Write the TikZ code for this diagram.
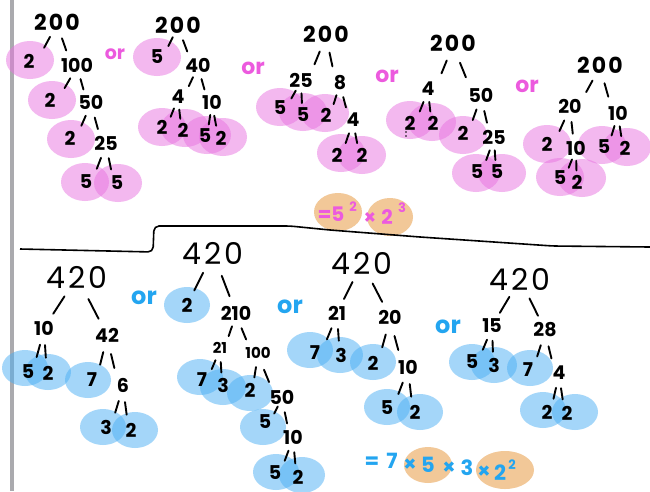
\documentclass[tikz,border=0pt]{standalone}
\usepackage{fontspec}
\setmainfont{Poppins}
\newfontfamily\widefont[LetterSpace=10]{Poppins}
\usetikzlibrary{calc}

\definecolor{pinkfill}{RGB}{233,115,225}
\definecolor{bluefill}{RGB}{75,175,245}
\definecolor{orangefill}{RGB}{242,200,152}
\definecolor{pinkink}{RGB}{236,90,222}
\definecolor{blueink}{RGB}{35,165,240}
\definecolor{bargray}{RGB}{170,170,174}

\tikzset{
  pinkblob/.style={fill=pinkfill, fill opacity=0.5},
  blueblob/.style={fill=bluefill, fill opacity=0.5},
  orangeblob/.style={fill=orangefill},
  twig/.style={line width=1.9pt, line cap=round},
  dg/.style={font=\bfseries\fontsize{19}{19}\selectfont, inner sep=1pt},
  sm/.style={font=\bfseries\fontsize{15}{15}\selectfont, inner sep=1pt},
  topnum/.style={font=\widefont\bfseries\fontsize{22}{22}\selectfont, inner sep=1pt},
  rootnum/.style={font=\widefont\fontsize{30}{30}\selectfont, inner sep=1pt},
  orp/.style={text=pinkink, font=\bfseries\fontsize{22}{22}\selectfont, inner sep=0pt},
  orb/.style={text=blueink, font=\bfseries\fontsize{24}{24}\selectfont, inner sep=0pt},
  eqp/.style={text=pinkink, font=\bfseries\fontsize{20}{20}\selectfont, inner sep=0pt},
  eqb/.style={text=blueink, font=\bfseries\fontsize{21}{21}\selectfont, inner sep=0pt},
  supp/.style={font=\bfseries\fontsize{13}{13}\selectfont, inner sep=0pt},
}

% short hand-drawn strokes between a parent and a child:
% they fall more steeply than the straight line joining the two centres
\newcommand{\twig}[2]{\draw[twig] let \p1=(#1), \p2=(#2) in
  ({\x1+0.25*(\x2-\x1)},{\y1+0.38*(\y2-\y1)}) --
  ({\x1+0.46*(\x2-\x1)},{\y1+0.66*(\y2-\y1)});}
\newcommand{\rtwig}[2]{\draw[twig] ($(#1)!0.38!(#2)$) -- ($(#1)!0.72!(#2)$);}
\newcommand{\pblob}[1]{\path[pinkblob] (#1) ellipse [x radius=24pt, y radius=19pt];}
\newcommand{\bblob}[1]{\path[blueblob] (#1) ellipse [x radius=23pt, y radius=18pt];}

\begin{document}
\begin{tikzpicture}[x=1pt, y=-1pt]
\useasboundingbox (0,0) rectangle (650,491);
\fill[white] (0,0) rectangle (650,491);
\fill[bargray] (10,0) rectangle (14,491);

% ---------- highlight blobs, top row ----------
\pblob{30,60} \pblob{52,100} \pblob{71,139} \pblob{85,182} \pblob{118,183}
\pblob{157,57} \pblob{162,127} \pblob{185,128} \pblob{207,135} \pblob{223,137}
\pblob{280,107} \pblob{303,112} \pblob{325,113} \pblob{341,153} \pblob{362,155}
\pblob{410,120} \pblob{432,122} \pblob{463,135} \pblob{476,173} \pblob{502,173}
\pblob{547,144} \pblob{560,177} \pblob{582,178} \pblob{602,145} \pblob{627,147}

% ---------- highlight blobs, bottom row ----------
\bblob{25,368} \bblob{48,372} \bblob{88,380} \bblob{103,427} \bblob{135,430}
\bblob{187,305} \bblob{200,377} \bblob{223,387} \bblob{250,393} \bblob{263,427}
\bblob{276,472} \bblob{302,475}
\bblob{310,350} \bblob{340,355} \bblob{373,362} \bblob{387,407} \bblob{420,412}
\bblob{472,362} \bblob{494,365} \bblob{530,368} \bblob{543,410} \bblob{575,412}

% ---------- results ----------
\path[orangeblob] (338,212) ellipse [x radius=24pt, y radius=19pt];
\path[orangeblob] (390,217) ellipse [x radius=23pt, y radius=19pt];
\path[orangeblob] (428,465) ellipse [x radius=24pt, y radius=18pt];
\path[orangeblob] (505,470) ellipse [x radius=29pt, y radius=19pt];

\node[eqp] (e1a) at (331,214) {=5};
\node[eqp,supp] (e1b) at (353,207) {2};
\node[eqp] (e1c) at (370,218) {×};
\node[eqp] (e1d) at (387,217) {2};
\node[eqp,supp] (e1e) at (402,208) {3};

\node[eqb] (e2a) at (372,463) {=};
\node[eqb] (e2b) at (392,461) {7};
\node[eqb] (e2c) at (410,465) {×};
\node[eqb] (e2d) at (428,465) {5};
\node[eqb] (e2e) at (449,468) {×};
\node[eqb] (e2f) at (467,468) {3};
\node[eqb] (e2g) at (484,472) {×};
\node[eqb] (e2h) at (500,473) {2};
\node[eqb,supp] (e2i) at (512,465) {2};

% ---------- dividing line ----------
\draw[line width=1.6pt, rounded corners=5pt]
  (20,249) -- (153,252) -- (154,226) -- (290,226) -- (330,230)
  -- (420,237) -- (553,246) -- (650,247);

% ---------- tree 1: 200 ----------
\node[topnum] (a1) at (57,22) {200};
\node[dg] (a2) at (29,61) {2};
\node[dg] (a3) at (77,65) {100};
\node[dg] (a4) at (50,100) {2};
\node[dg] (a5) at (91,102) {50};
\node[dg] (a6) at (70,138) {2};
\node[dg] (a7) at (106,143) {25};
\node[dg] (a8) at (86,182) {5};
\node[dg] (a9) at (117,183) {5};
\twig{a1}{a2} \twig{a1}{a3} \twig{a3}{a4} \twig{a3}{a5}
\twig{a5}{a6} \twig{a5}{a7} \twig{a7}{a8} \twig{a7}{a9}
\node[orp,font=\bfseries\fontsize{19}{19}\selectfont] (or1) at (115,54) {or};

% ---------- tree 2: 200 ----------
\node[topnum] (b1) at (178,25) {200};
\node[dg] (b2) at (157,57) {5};
\node[dg] (b3) at (198,65) {40};
\node[dg] (b4) at (178,97) {4};
\node[dg] (b5) at (212,102) {10};
\node[dg] (b6) at (162,127) {2};
\node[dg] (b7) at (183,130) {2};
\node[dg] (b8) at (205,136) {5};
\node[dg] (b9) at (221,138) {2};
\twig{b1}{b2} \twig{b1}{b3} \twig{b3}{b4} \twig{b3}{b5}
\twig{b4}{b6} \twig{b4}{b7} \twig{b5}{b8} \twig{b5}{b9}
\node[orp] (or2) at (253,68) {or};

% ---------- tree 3: 200 ----------
\node[topnum] (c1) at (326,34) {200};
\node[dg] (c2) at (301,80) {25};
\node[dg] (c3) at (340,83) {8};
\node[dg] (c4) at (280,108) {5};
\node[dg] (c5) at (303,115) {5};
\node[dg] (c6) at (326,115) {2};
\node[dg] (c7) at (353,120) {4};
\node[dg] (c8) at (337,155) {2};
\node[dg] (c9) at (362,155) {2};
\twig{c1}{c2} \twig{c1}{c3} \twig{c2}{c4} \twig{c2}{c5}
\twig{c3}{c6} \twig{c3}{c7} \twig{c7}{c8} \twig{c7}{c9}
\node[orp] (or3) at (387,76) {or};

% ---------- tree 4: 200 ----------
\node[topnum] (d1) at (453,43) {200};
\node[dg] (d2) at (428,89) {4};
\node[dg] (d3) at (481,95) {50};
\node[dg] (d4) at (410,123) {2};
\node[dg] (d5) at (433,123) {2};
\node[dg] (d6) at (463,133) {2};
\node[dg] (d7) at (494,137) {25};
\node[dg] (d8) at (477,172) {5};
\node[dg] (d9) at (497,172) {5};
\twig{d1}{d2} \twig{d1}{d3} \twig{d2}{d4} \twig{d2}{d5}
\twig{d3}{d6} \twig{d3}{d7} \twig{d7}{d8} \twig{d7}{d9}
\fill (406,132) circle (0.9pt) (406,136) circle (0.9pt);
\node[orp] (or4) at (527,86) {or};

% ---------- tree 5: 200 ----------
\node[topnum] (f1) at (600,65) {200};
\node[dg] (f2) at (570,106) {20};
\node[dg] (f3) at (618,113) {10};
\node[dg] (f4) at (547,144) {2};
\node[dg] (f5) at (576,148) {10};
\node[dg] (f6) at (560,178) {5};
\node[dg] (f7) at (577,182) {2};
\node[dg] (f8) at (604,147) {5};
\node[dg] (f9) at (625,148) {2};
\twig{f1}{f2} \twig{f1}{f3} \twig{f2}{f4} \twig{f2}{f5}
\twig{f5}{f6} \twig{f5}{f7} \twig{f3}{f8} \twig{f3}{f9}

% ---------- tree A: 420 ----------
\node[rootnum] (g1) at (77,277) {420};
\node[dg] (g2) at (44,328) {10};
\node[dg] (g3) at (107,335) {42};
\node[dg] (g4) at (28,372) {5};
\node[dg] (g5) at (48,373) {2};
\node[dg] (g6) at (92,380) {7};
\node[dg] (g7) at (123,385) {6};
\node[dg] (g8) at (106,427) {3};
\node[dg] (g9) at (131,430) {2};
\rtwig{g1}{g2} \rtwig{g1}{g3} \twig{g2}{g4} \twig{g2}{g5}
\twig{g3}{g6} \twig{g3}{g7} \twig{g7}{g8} \twig{g7}{g9}
\node[orb] (or5) at (144,298) {or};

% ---------- tree B: 420 ----------
\node[rootnum] (h1) at (213,253) {420};
\node[dg] (h2) at (187,305) {2};
\node[dg] (h3) at (236,313) {210};
\node[sm] (h4) at (220,348) {21};
\node[sm] (h5) at (258,353) {100};
\node[dg] (h6) at (202,380) {7};
\node[dg] (h7) at (223,385) {3};
\node[dg] (h8) at (250,390) {2};
\node[dg] (h9) at (282,397) {50};
\node[dg] (h10) at (265,422) {5};
\node[dg] (h11) at (293,437) {10};
\node[dg] (h12) at (275,473) {5};
\node[dg] (h13) at (298,477) {2};
\rtwig{h1}{h2} \rtwig{h1}{h3} \twig{h3}{h4} \twig{h3}{h5}
\twig{h4}{h6} \twig{h4}{h7} \twig{h5}{h8} \twig{h5}{h9}
\twig{h9}{h10} \twig{h9}{h11} \twig{h11}{h12} \twig{h11}{h13}
\node[orb] (or6) at (290,307) {or};

% ---------- tree C: 420 ----------
\node[rootnum] (k1) at (362,263) {420};
\node[dg] (k2) at (337,313) {21};
\node[dg] (k3) at (390,317) {20};
\node[dg] (k4) at (315,353) {7};
\node[dg] (k5) at (341,355) {3};
\node[dg] (k6) at (373,363) {2};
\node[dg] (k7) at (408,367) {10};
\node[dg] (k8) at (387,408) {5};
\node[dg] (k9) at (415,412) {2};
\rtwig{k1}{k2} \rtwig{k1}{k3} \twig{k2}{k4} \twig{k2}{k5}
\twig{k3}{k6} \twig{k3}{k7} \twig{k7}{k8} \twig{k7}{k9}
\node[orb] (or7) at (448,327) {or};

% ---------- tree D: 420 ----------
\node[rootnum] (m1) at (520,279) {420};
\node[dg] (m2) at (492,326) {15};
\node[dg] (m3) at (545,330) {28};
\node[dg] (m4) at (472,362) {5};
\node[dg] (m5) at (494,365) {3};
\node[dg] (m6) at (528,370) {7};
\node[dg] (m7) at (559,373) {4};
\node[dg] (m8) at (547,412) {2};
\node[dg] (m9) at (567,413) {2};
\rtwig{m1}{m2} \rtwig{m1}{m3} \twig{m2}{m4} \twig{m2}{m5}
\twig{m3}{m6} \twig{m3}{m7} \twig{m7}{m8} \twig{m7}{m9}
\end{tikzpicture}
\end{document}
